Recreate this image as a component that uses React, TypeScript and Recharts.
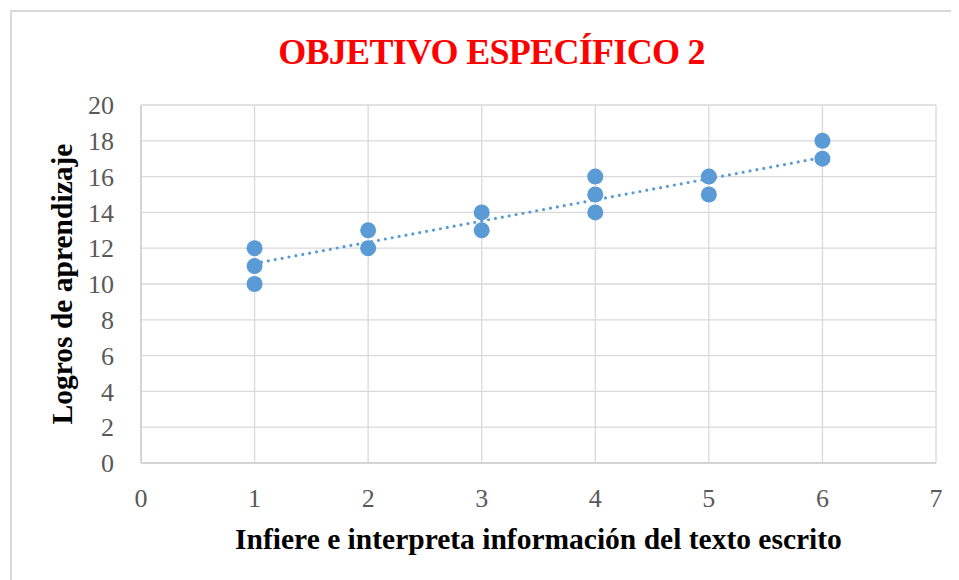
import React from "react";
import { ScatterChart, Scatter, XAxis, YAxis, CartesianGrid } from "recharts";

const xValues = [1, 1, 1, 2, 2, 3, 3, 4, 4, 4, 5, 5, 6, 6];
const yValues = [10, 11, 12, 12, 13, 13, 14, 14, 15, 16, 15, 16, 17, 18];
const trendX = [1, 6];
const trendY = [11.15, 17.07];
const xTicks = [0, 1, 2, 3, 4, 5, 6, 7];
const yTicks = [0, 2, 4, 6, 8, 10, 12, 14, 16, 18, 20];

const points = xValues.map((x, i) => ({ x, y: yValues[i] }));
const trend = trendX.map((x, i) => ({ x, y: trendY[i] }));

const BLUE = "#5B9BD5";
const FONT = "'Liberation Serif', 'Times New Roman', serif";

const XTick = (props: any) => (
  <text x={props.x} y={props.y + 44} textAnchor="middle" fontFamily={FONT} fontSize={26} fill="#595959">
    {props.payload.value}
  </text>
);
const YTick = (props: any) => (
  <text x={props.x - 27} y={props.y} dy="0.35em" textAnchor="end" fontFamily={FONT} fontSize={26} fill="#595959">
    {props.payload.value}
  </text>
);

export default function App() {
  return (
    <div style={{ position: "relative", width: 951, height: 572, overflow: "hidden", background: "#fff" }}>
      <div
        style={{
          position: "absolute",
          left: 2,
          top: 2,
          width: 1000,
          height: 700,
          border: "2px solid #d9d9d9",
          boxSizing: "border-box",
        }}
      />
      <div
        style={{
          position: "absolute",
          left: 0,
          width: 967,
          top: 24,
          textAlign: "center",
          fontFamily: FONT,
          fontWeight: "bold",
          fontSize: 36,
          color: "#FF0000",
          letterSpacing: -0.7,
          lineHeight: "40px",
        }}
      >
        OBJETIVO ESPECÍFICO 2
      </div>
      <div style={{ position: "absolute", left: 0, top: 0 }}>
        <ScatterChart width={951} height={572} margin={{ top: 97, right: 23, left: 0, bottom: 0 }}>
          <CartesianGrid stroke="#d9d9d9" strokeWidth={1.3} />
          <XAxis
            type="number"
            dataKey="x"
            domain={[0, 7]}
            ticks={xTicks}
            interval={0}
            height={117}
            tickSize={0}
            tickMargin={0}
            tickLine={false}
            axisLine={{ stroke: "#cfcfcf", strokeWidth: 1.5 }}
            tick={XTick}
            label={{
              content: (p: any) => (
                <text
                  x={p.viewBox.x + p.viewBox.width / 2}
                  y={p.viewBox.y + 86}
                  textAnchor="middle"
                  fontFamily={FONT}
                  fontWeight="bold"
                  fontSize={29.5}
                  fill="#000"
                >
                  Infiere e interpreta información del texto escrito
                </text>
              ),
            }}
          />
          <YAxis
            type="number"
            dataKey="y"
            domain={[0, 20]}
            ticks={yTicks}
            interval={0}
            width={133}
            tickSize={0}
            tickMargin={0}
            tickLine={false}
            axisLine={{ stroke: "#cfcfcf", strokeWidth: 1.5 }}
            tick={YTick}
            label={{
              content: (p: any) => {
                const cx = 54;
                const cy = p.viewBox.y + p.viewBox.height / 2;
                return (
                  <text
                    x={cx}
                    y={cy}
                    transform={`rotate(-90 ${cx} ${cy})`}
                    textAnchor="middle"
                    dominantBaseline="central"
                    fontFamily={FONT}
                    fontWeight="bold"
                    fontSize={29.5}
                    fill="#000"
                  >
                    Logros de aprendizaje
                  </text>
                );
              },
            }}
          />
          <Scatter
            data={points}
            fill={BLUE}
            isAnimationActive={false}
            shape={(p: any) => <circle cx={p.cx} cy={p.cy} r={8} fill={BLUE} />}
          />
          <Scatter
            data={trend}
            isAnimationActive={false}
            line={{ stroke: BLUE, strokeWidth: 3.2, strokeDasharray: "0 7", strokeLinecap: "round" }}
            lineType="joint"
            shape={() => <g />}
          />
        </ScatterChart>
      </div>
    </div>
  );
}
